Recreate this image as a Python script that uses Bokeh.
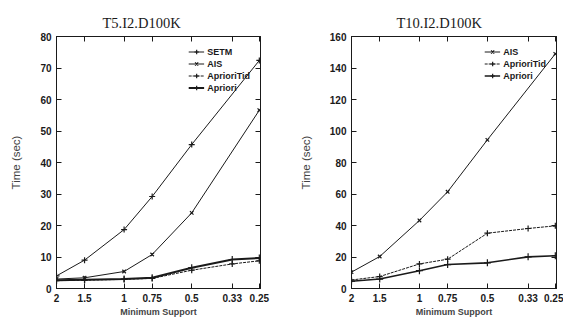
from bokeh.plotting import figure
from bokeh.models import (Range1d, FixedTicker, LinearAxis, LogAxis,
                          CustomJSTickFormatter, Legend, LegendItem)
from bokeh.layouts import row
from bokeh.embed import file_html
from bokeh.resources import INLINE

# ---- data ----
support = [2, 1.5, 1, 0.75, 0.5, 0.33, 0.25]
support_nomid = [2, 1.5, 1, 0.75, 0.5, 0.25]

t5_setm = [4.0, 9.0, 18.7, 29.2, 45.7, 72.4]
t5_ais = [3.0, 3.4, 5.4, 10.8, 24.0, 56.6]
t5_aprioritid = [2.5, 2.6, 2.9, 3.2, 5.8, 7.8, 8.8]
t5_apriori = [2.6, 2.8, 3.0, 3.4, 6.6, 9.2, 9.7]

t10_ais = [10.4, 20.3, 43.2, 61.4, 94.4, 149.0]
t10_aprioritid = [5.4, 7.6, 15.6, 18.6, 35.1, 38.1, 39.8]
t10_apriori = [4.6, 6.0, 11.3, 15.2, 16.3, 20.1, 20.8]

t5_yticks = [0, 10, 20, 30, 40, 50, 60, 70, 80]
t10_yticks = [0, 20, 40, 60, 80, 100, 120, 140, 160]

INK = "#1a1a1a"
SANS = "Liberation Sans"


def style_axis(ax, labels=True):
    ax.major_tick_in = 5
    ax.major_tick_out = 0
    ax.minor_tick_line_color = None
    ax.axis_line_color = INK
    ax.major_tick_line_color = INK
    if not labels:
        ax.major_label_text_font_size = "0px"
        ax.major_label_standoff = 0
        ax.formatter = CustomJSTickFormatter(code="return '';")
    else:
        ax.major_label_text_font = SANS
        ax.major_label_text_font_style = "bold"
        ax.major_label_text_font_size = "10px"
        ax.major_label_text_color = INK


def build(title, ymax, yticks, series, width, bl, br, title_offset):
    p = figure(width=width, height=324, x_axis_type="log",
               x_range=Range1d(2, 0.247), y_range=Range1d(0, ymax),
               output_backend="svg", toolbar_location=None,
               min_border_left=bl, min_border_right=br,
               min_border_top=36, min_border_bottom=36, title=title)
    p.title.text_font = "Liberation Serif"
    p.title.text_font_size = "14.5px"
    p.title.text_font_style = "normal"
    p.title.text_color = INK
    p.title.align = "left"
    p.title.offset = title_offset
    p.title.standoff = 12
    p.xgrid.grid_line_color = None
    p.ygrid.grid_line_color = None
    p.outline_line_color = INK

    xa = p.xaxis[0]
    xa.ticker = FixedTicker(ticks=support)
    style_axis(xa)
    xa.formatter = CustomJSTickFormatter(code="return tick.toString();")
    xa.major_label_standoff = 5
    xa.axis_label = "Minimum Support"
    xa.axis_label_text_font = SANS
    xa.axis_label_text_font_style = "bold"
    xa.axis_label_text_font_size = "9px"
    xa.axis_label_standoff = 2

    ya = p.yaxis[0]
    ya.ticker = FixedTicker(ticks=yticks)
    style_axis(ya)
    ya.major_label_standoff = 5
    ya.axis_label = "Time (sec)"
    ya.axis_label_text_font = SANS
    ya.axis_label_text_font_style = "normal"
    ya.axis_label_text_font_size = "11.5px"
    ya.axis_label_standoff = 15

    top = LogAxis(ticker=FixedTicker(ticks=support))
    style_axis(top, labels=False)
    p.add_layout(top, "above")
    right = LinearAxis(ticker=FixedTicker(ticks=yticks))
    style_axis(right, labels=False)
    p.add_layout(right, "right")

    items = []
    for name, xs, ys, dash, lw, marker, ms in series:
        r1 = p.line(xs, ys, line_color=INK, line_width=lw, line_dash=dash)
        r2 = p.scatter(xs, ys, marker=marker, size=ms, line_color=INK,
                       fill_color=INK, line_width=1.2)
        items.append(LegendItem(label=name, renderers=[r1, r2]))
    leg = Legend(items=items, location="top_right")
    leg.background_fill_alpha = 0
    leg.border_line_alpha = 0
    leg.label_text_font = SANS
    leg.label_text_font_style = "bold"
    leg.label_text_font_size = "9px"
    leg.label_text_color = INK
    leg.label_height = 11
    leg.glyph_height = 11
    leg.glyph_width = 16
    leg.spacing = 1
    leg.padding = 2
    leg.margin = 8
    leg.label_standoff = 3
    p.add_layout(leg)
    return p


left = build("T5.I2.D100K", 80, t5_yticks, [
    ("SETM", support_nomid, t5_setm, "solid", 1, "cross", 6),
    ("AIS", support_nomid, t5_ais, "solid", 1, "x", 5),
    ("AprioriTid", support, t5_aprioritid, "3 1", 1, "cross", 6),
    ("Apriori", support, t5_apriori, "solid", 2, "cross", 7),
], width=283, bl=56, br=23, title_offset=46)

right_p = build("T10.I2.D100K", 160, t10_yticks, [
    ("AIS", support_nomid, t10_ais, "solid", 1, "x", 5),
    ("AprioriTid", support, t10_aprioritid, "3 1", 1, "cross", 6),
    ("Apriori", support, t10_apriori, "solid", 1.6, "cross", 7),
], width=280, bl=68, br=7, title_offset=45)

layout = row(left, right_p)
open("out.html", "w").write(file_html(layout, INLINE))
